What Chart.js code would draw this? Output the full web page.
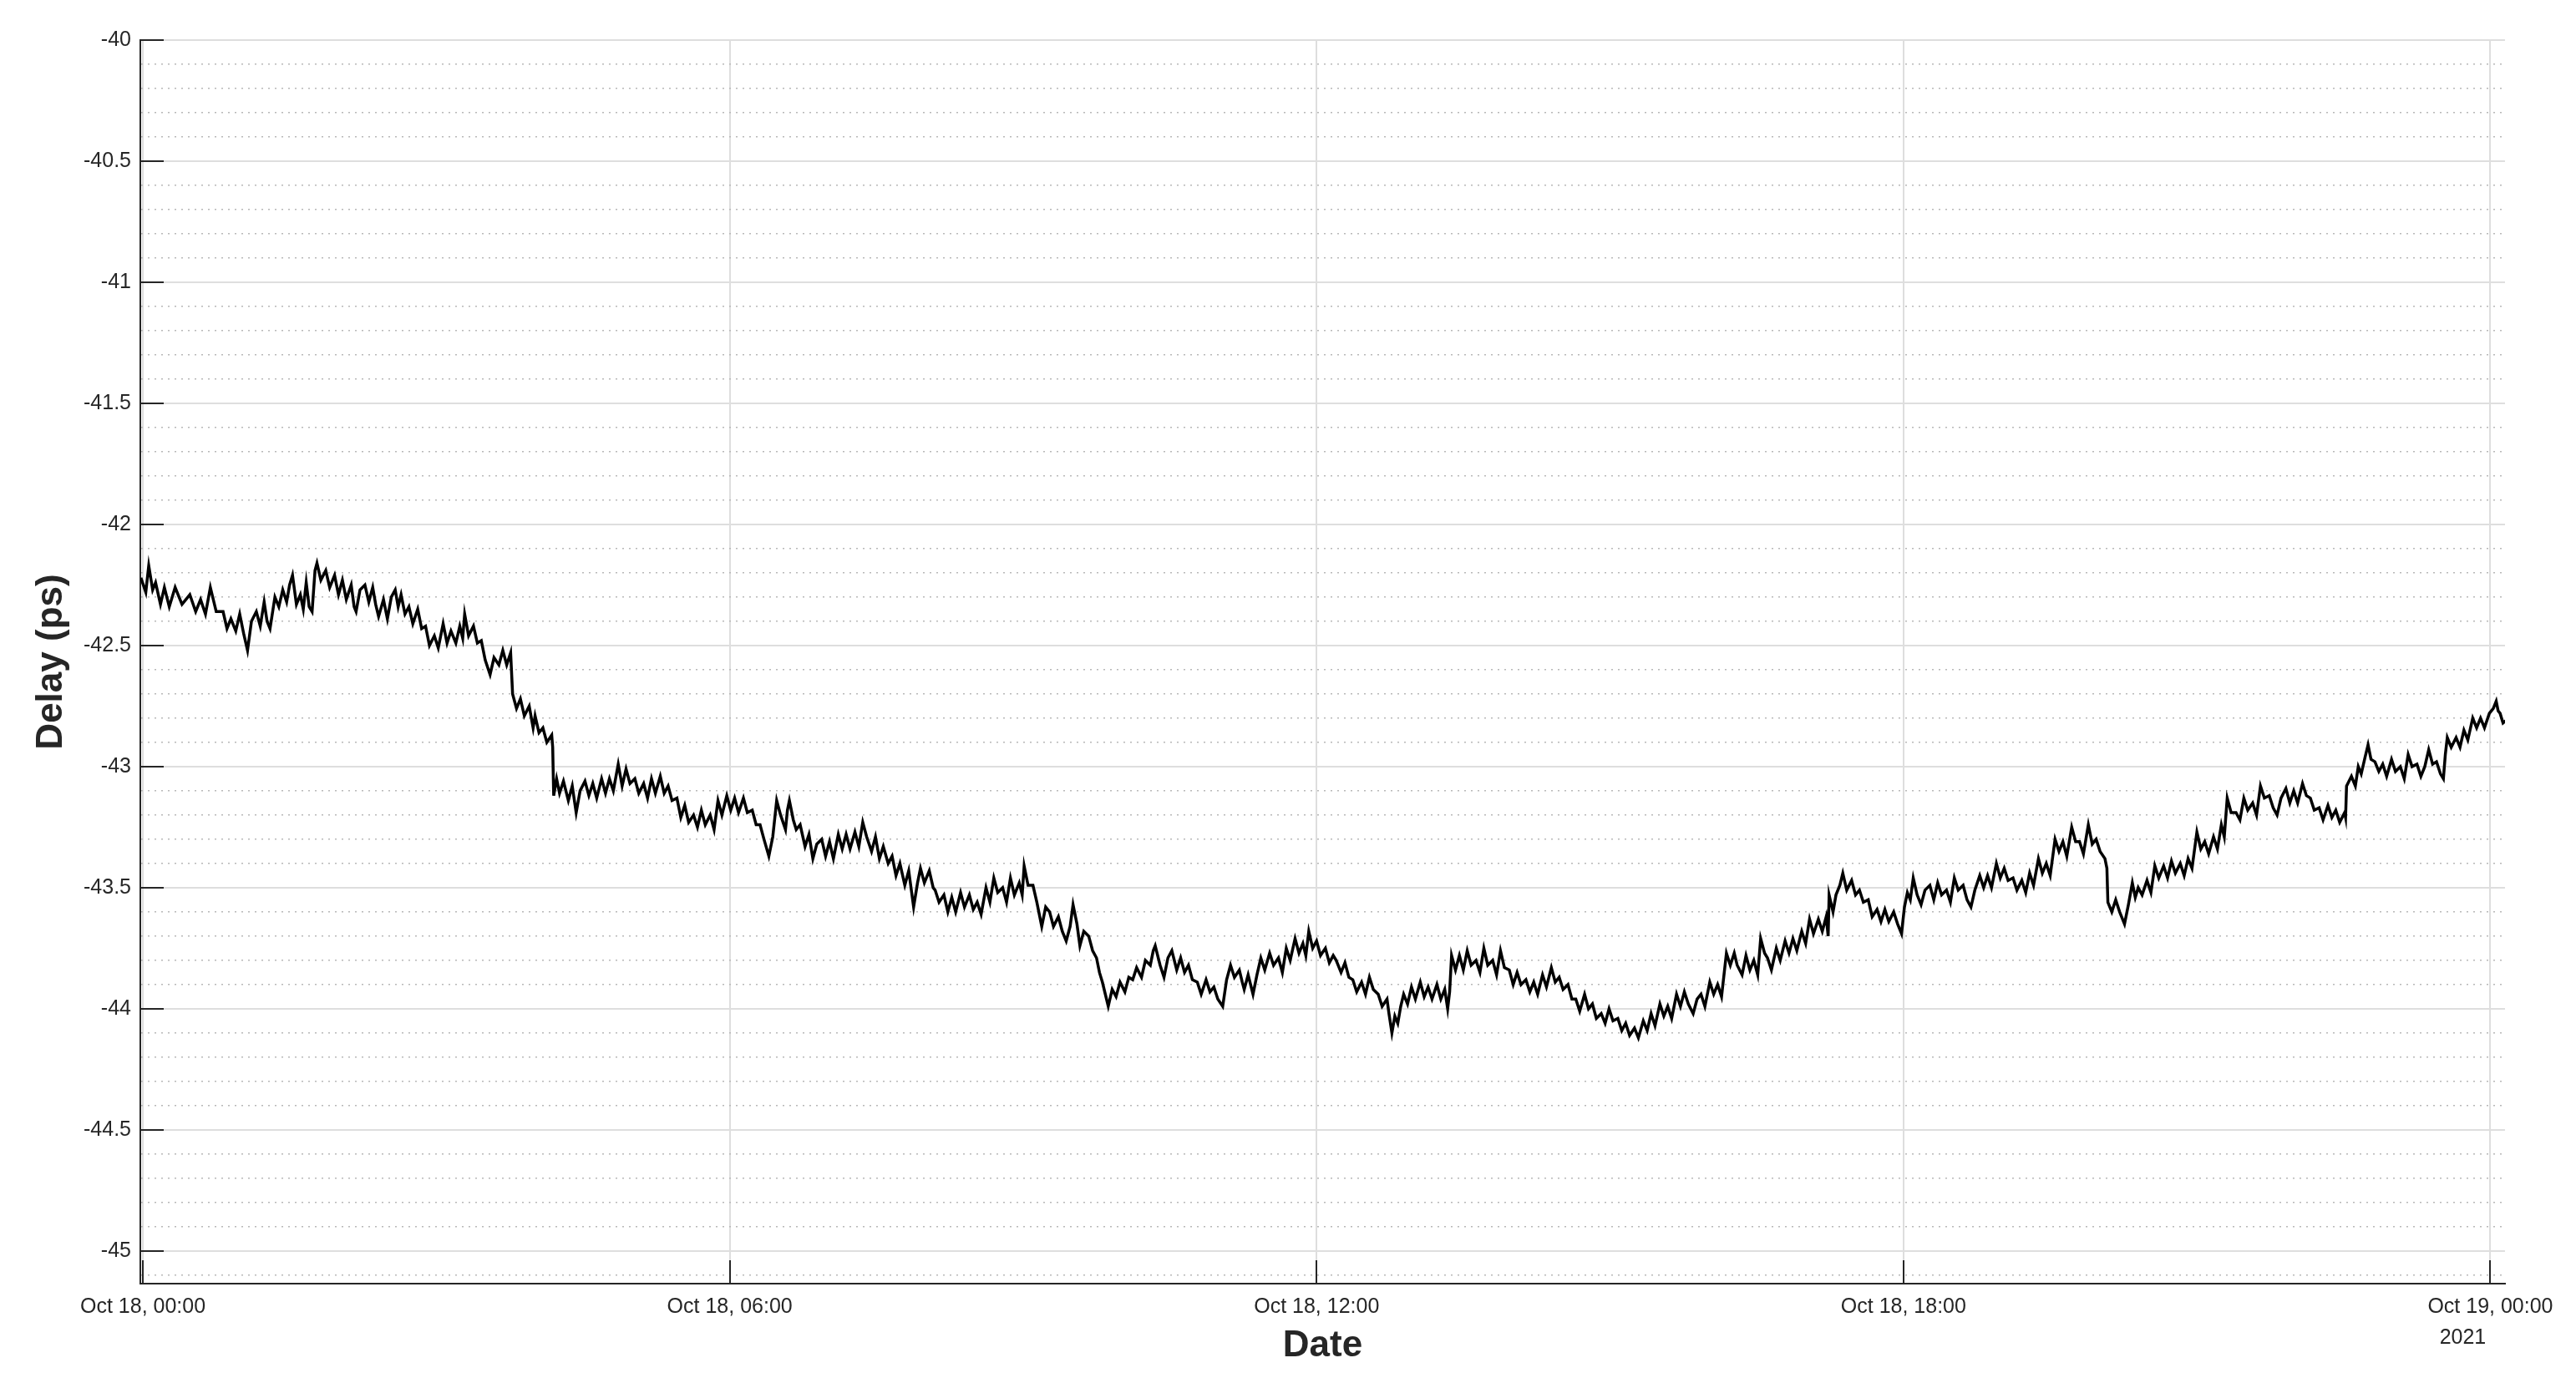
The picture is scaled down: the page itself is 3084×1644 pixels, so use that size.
<!DOCTYPE html>
<html>
<head>
<meta charset="utf-8">
<title>Delay (ps) vs Date</title>
<script src="https://cdn.jsdelivr.net/npm/chart.js@4.4.1/dist/chart.umd.min.js"></script>
<style>
  html, body { margin: 0; padding: 0; background: #fff; }
  #wrap { width: 3084px; height: 1644px; }
</style>
</head>
<body>
<div id="wrap"><canvas id="chart" width="3084" height="1644"></canvas></div>
<script>
// hours since Oct 18 2021 00:00
const hours = [
  -0.02, 0.03, 0.06, 0.10, 0.13, 0.18, 0.22, 0.27, 0.33, 0.40,
  0.48, 0.54, 0.59, 0.64, 0.69, 0.75, 0.82, 0.86, 0.90, 0.95,
  0.99, 1.03, 1.07, 1.11, 1.16, 1.20, 1.24, 1.27, 1.30, 1.35,
  1.39, 1.43, 1.47, 1.50, 1.53, 1.57, 1.61, 1.64, 1.67, 1.70,
  1.73, 1.76, 1.78, 1.82, 1.87, 1.91, 1.96, 2.00, 2.04, 2.08,
  2.13, 2.16, 2.18, 2.22, 2.27, 2.31, 2.35, 2.38, 2.41, 2.46,
  2.50, 2.54, 2.58, 2.61, 2.64, 2.68, 2.72, 2.76, 2.81, 2.85,
  2.89, 2.93, 2.98, 3.02, 3.07, 3.11, 3.15, 3.20, 3.24, 3.27,
  3.29, 3.33, 3.38, 3.42, 3.46, 3.50, 3.55, 3.59, 3.64, 3.68,
  3.72, 3.76, 3.78, 3.82, 3.86, 3.90, 3.95, 3.99,
  4.01, 4.05, 4.09, 4.13, 4.18, 4.19, 4.20, 4.23, 4.26, 4.30,
  4.35, 4.39, 4.43, 4.47, 4.52, 4.56, 4.60, 4.64, 4.69, 4.73,
  4.77, 4.81, 4.86, 4.90, 4.94, 4.98, 5.03, 5.07, 5.12, 5.16,
  5.20, 5.24, 5.29, 5.33, 5.37, 5.41, 5.46, 5.50, 5.54, 5.58,
  5.63, 5.67, 5.71, 5.75, 5.80, 5.84, 5.88, 5.92, 5.97, 6.01,
  6.05, 6.09, 6.14, 6.18, 6.23, 6.27, 6.31, 6.35, 6.40, 6.44,
  6.48, 6.52, 6.57, 6.59, 6.61, 6.65, 6.68, 6.72, 6.77, 6.81,
  6.85, 6.89, 6.94, 6.98, 7.02, 7.06, 7.11, 7.15, 7.19, 7.23,
  7.28, 7.32, 7.36, 7.40, 7.45, 7.49, 7.53, 7.57, 7.62, 7.66,
  7.70, 7.74, 7.79, 7.83, 7.88, 7.92, 7.95, 7.99, 8.04, 8.08,
  8.10, 8.14, 8.19, 8.23, 8.27, 8.31, 8.36, 8.40, 8.45, 8.49,
  8.53, 8.57, 8.62, 8.66, 8.70, 8.74, 8.79, 8.83, 8.87, 8.91,
  8.96, 8.99, 9.01, 9.05, 9.10, 9.14, 9.19, 9.23, 9.27, 9.31,
  9.36, 9.40, 9.44, 9.48, 9.51, 9.55, 9.58, 9.62, 9.67, 9.71,
  9.75, 9.78, 9.81, 9.84, 9.87, 9.91, 9.95, 9.99, 10.04, 10.08,
  10.12, 10.16, 10.21, 10.25, 10.30, 10.33, 10.35, 10.40, 10.44, 10.48,
  10.52, 10.57, 10.61, 10.65, 10.69, 10.73, 10.78, 10.82, 10.87, 10.91,
  10.95, 10.99, 11.04, 11.08, 11.12, 11.16, 11.21, 11.24, 11.26, 11.30,
  11.35, 11.39, 11.43, 11.47, 11.52, 11.56, 11.61, 11.65, 11.69, 11.73,
  11.78, 11.82, 11.86, 11.89, 11.92, 11.96, 12.00, 12.04, 12.09, 12.13,
  12.17,
  12.20, 12.25, 12.29, 12.33, 12.37, 12.41, 12.46, 12.50, 12.54, 12.58,
  12.63, 12.67, 12.72, 12.74, 12.77, 12.80, 12.83, 12.86, 12.89, 12.93,
  12.97, 13.01, 13.06, 13.10, 13.14, 13.18, 13.23, 13.27, 13.31, 13.34,
  13.36, 13.38, 13.42, 13.46, 13.50, 13.54, 13.58, 13.63, 13.67, 13.71,
  13.75, 13.80, 13.84, 13.88, 13.92, 13.97, 14.01, 14.05, 14.09, 14.14,
  14.18, 14.22, 14.26, 14.31, 14.35, 14.40, 14.44, 14.48, 14.52, 14.57,
  14.61, 14.65, 14.69, 14.74, 14.78, 14.82, 14.86, 14.91, 14.95, 14.99,
  15.03, 15.08, 15.12, 15.16, 15.20, 15.25, 15.29, 15.34, 15.38, 15.42,
  15.46, 15.51, 15.55, 15.59, 15.63, 15.68, 15.72, 15.76, 15.80, 15.85,
  15.89, 15.93, 15.97, 16.02, 16.06, 16.10, 16.14, 16.19, 16.23, 16.27,
  16.30, 16.35, 16.39, 16.43, 16.47, 16.51, 16.54, 16.58, 16.61, 16.65,
  16.70, 16.74, 16.79, 16.83, 16.87, 16.91, 16.96, 17.00, 17.04, 17.08,
  17.13, 17.17, 17.21, 17.23, 17.24, 17.28, 17.31, 17.35, 17.38, 17.42,
  17.47, 17.51, 17.55, 17.59, 17.64, 17.68, 17.73, 17.77, 17.81, 17.85,
  17.90, 17.94, 17.98, 18.01, 18.04, 18.07, 18.10, 18.14, 18.18, 18.22,
  18.27, 18.31, 18.35, 18.39, 18.44, 18.48, 18.52, 18.56, 18.61, 18.65,
  18.69, 18.73, 18.78, 18.82, 18.86, 18.90, 18.95, 18.99, 19.03, 19.07,
  19.12, 19.16, 19.21, 19.25, 19.29, 19.33, 19.38, 19.42, 19.46, 19.50,
  19.55, 19.59, 19.63, 19.67, 19.72, 19.76, 19.80, 19.84, 19.89, 19.93,
  19.97, 20.01, 20.06, 20.08, 20.09, 20.13, 20.17, 20.21, 20.26, 20.30,
  20.34, 20.37, 20.40,
  20.44, 20.49, 20.53, 20.57, 20.61, 20.66, 20.70, 20.74, 20.78, 20.83,
  20.87, 20.91, 20.95, 21.00, 21.04, 21.08, 21.12, 21.17, 21.21, 21.25,
  21.28, 21.31, 21.35, 21.40, 21.44, 21.48, 21.52, 21.57, 21.61, 21.65,
  21.69, 21.74, 21.78, 21.82, 21.86, 21.91, 21.95, 21.99, 22.03, 22.08,
  22.12, 22.16, 22.20, 22.25, 22.29, 22.34, 22.38, 22.42, 22.46, 22.51,
  22.52, 22.53, 22.58, 22.62, 22.65, 22.68, 22.72, 22.75, 22.78, 22.82,
  22.86, 22.90, 22.94, 22.99, 23.03, 23.08, 23.12, 23.16, 23.20, 23.25,
  23.29, 23.33, 23.37, 23.41, 23.45, 23.49, 23.52, 23.54, 23.56, 23.60,
  23.65, 23.69, 23.73, 23.77, 23.82, 23.86, 23.90, 23.94, 23.99, 24.03,
  24.06, 24.08, 24.10, 24.13, 24.16
]

const delayPs = [
  -42.22, -42.28, -42.17, -42.27, -42.24, -42.33, -42.26, -42.34, -42.26, -42.33,
  -42.29, -42.36, -42.31, -42.37, -42.26, -42.36, -42.36, -42.43, -42.39, -42.44,
  -42.37, -42.45, -42.52, -42.40, -42.36, -42.42, -42.32, -42.40, -42.43, -42.30,
  -42.34, -42.27, -42.32, -42.25, -42.21, -42.33, -42.29, -42.35, -42.24, -42.34,
  -42.36, -42.19, -42.16, -42.23, -42.19, -42.26, -42.21, -42.29, -42.23, -42.31,
  -42.25, -42.34, -42.36, -42.27, -42.25, -42.32, -42.26, -42.33, -42.38, -42.31,
  -42.39, -42.30, -42.27, -42.34, -42.29, -42.37, -42.34, -42.41, -42.35, -42.43,
  -42.42, -42.50, -42.46, -42.51, -42.41, -42.49, -42.44, -42.49, -42.42, -42.47,
  -42.37, -42.46, -42.42, -42.49, -42.48, -42.56, -42.62, -42.55, -42.58, -42.52,
  -42.58, -42.53, -42.70, -42.76, -42.72, -42.79, -42.75, -42.84,
  -42.79, -42.86, -42.84, -42.90, -42.87, -42.92, -43.12, -43.05, -43.11, -43.06,
  -43.14, -43.08, -43.19, -43.10, -43.06, -43.12, -43.07, -43.13, -43.05, -43.11,
  -43.05, -43.10, -42.99, -43.08, -43.01, -43.07, -43.05, -43.11, -43.07, -43.13,
  -43.05, -43.11, -43.04, -43.11, -43.08, -43.14, -43.13, -43.21, -43.16, -43.23,
  -43.20, -43.25, -43.18, -43.24, -43.20, -43.26, -43.14, -43.20, -43.12, -43.18,
  -43.13, -43.19, -43.13, -43.19, -43.18, -43.24, -43.24, -43.30, -43.37, -43.29,
  -43.14, -43.20, -43.26, -43.18, -43.14, -43.22, -43.26, -43.24, -43.33, -43.28,
  -43.38, -43.32, -43.30, -43.37, -43.31, -43.38, -43.28, -43.34, -43.28, -43.34,
  -43.27, -43.33, -43.23, -43.29, -43.35, -43.29, -43.38, -43.33, -43.40, -43.37,
  -43.45, -43.40, -43.49, -43.43, -43.58, -43.48, -43.42, -43.48, -43.43, -43.50,
  -43.51, -43.56, -43.53, -43.60, -43.54, -43.60, -43.52, -43.58, -43.53, -43.59,
  -43.56, -43.61, -43.50, -43.56, -43.46, -43.52, -43.50, -43.56, -43.46, -43.53,
  -43.48, -43.53, -43.41, -43.49, -43.49, -43.56, -43.66, -43.58, -43.60, -43.66,
  -43.62, -43.68, -43.72, -43.66, -43.57, -43.65, -43.74, -43.68, -43.70, -43.76,
  -43.79, -43.85, -43.89, -43.94, -43.99, -43.92, -43.95, -43.89, -43.93, -43.87,
  -43.88, -43.83, -43.87, -43.80, -43.82, -43.76, -43.74, -43.82, -43.87, -43.79,
  -43.76, -43.84, -43.79, -43.85, -43.82, -43.88, -43.89, -43.94, -43.88, -43.93,
  -43.91, -43.96, -43.99, -43.88, -43.82, -43.87, -43.84, -43.89, -43.92, -43.86,
  -43.94, -43.86, -43.79, -43.84, -43.77, -43.82, -43.79, -43.85, -43.75, -43.80,
  -43.71, -43.77, -43.73, -43.78, -43.68, -43.75, -43.72, -43.78, -43.75, -43.81,
  -43.78,
  -43.80, -43.85, -43.81, -43.87, -43.88, -43.93, -43.89, -43.94, -43.87, -43.92,
  -43.94, -43.99, -43.96, -44.02, -44.10, -44.03, -44.06, -43.99, -43.94, -43.98,
  -43.91, -43.96, -43.89, -43.95, -43.91, -43.96, -43.90, -43.96, -43.92, -44.00,
  -43.93, -43.78, -43.84, -43.78, -43.84, -43.76, -43.82, -43.80, -43.85, -43.75,
  -43.82, -43.80, -43.86, -43.76, -43.83, -43.84, -43.90, -43.85, -43.90, -43.88,
  -43.93, -43.89, -43.94, -43.86, -43.91, -43.83, -43.89, -43.87, -43.92, -43.90,
  -43.96, -43.96, -44.01, -43.94, -44.00, -43.98, -44.04, -44.02, -44.06, -44.00,
  -44.05, -44.04, -44.09, -44.06, -44.11, -44.08, -44.12, -44.05, -44.09, -44.02,
  -44.07, -43.98, -44.03, -43.99, -44.04, -43.94, -43.99, -43.93, -43.98, -44.02,
  -43.96, -43.94, -43.99, -43.89, -43.94, -43.90, -43.95, -43.77, -43.82, -43.77,
  -43.82, -43.86, -43.78, -43.84, -43.80, -43.86, -43.71, -43.77, -43.79, -43.84,
  -43.75, -43.80, -43.72, -43.77, -43.71, -43.76, -43.68, -43.73, -43.63, -43.69,
  -43.63, -43.68, -43.62, -43.70, -43.53, -43.60, -43.53, -43.49, -43.44, -43.51,
  -43.47, -43.53, -43.51, -43.56, -43.55, -43.62, -43.59, -43.64, -43.59, -43.64,
  -43.60, -43.65, -43.69, -43.58, -43.52, -43.55, -43.46, -43.53, -43.57, -43.51,
  -43.49, -43.55, -43.48, -43.53, -43.51, -43.56, -43.46, -43.51, -43.49, -43.55,
  -43.58, -43.51, -43.45, -43.50, -43.45, -43.50, -43.40, -43.46, -43.42, -43.47,
  -43.46, -43.51, -43.47, -43.52, -43.44, -43.49, -43.38, -43.44, -43.40, -43.45,
  -43.30, -43.35, -43.31, -43.37, -43.25, -43.31, -43.31, -43.36, -43.24, -43.32,
  -43.30, -43.35, -43.38, -43.42, -43.56, -43.60, -43.55, -43.60, -43.65, -43.57,
  -43.48, -43.54, -43.50,
  -43.53, -43.47, -43.52, -43.41, -43.46, -43.41, -43.46, -43.39, -43.44, -43.40,
  -43.45, -43.38, -43.42, -43.27, -43.34, -43.31, -43.36, -43.29, -43.34, -43.24,
  -43.29, -43.13, -43.19, -43.19, -43.22, -43.13, -43.18, -43.15, -43.20, -43.08,
  -43.13, -43.12, -43.17, -43.20, -43.13, -43.09, -43.15, -43.10, -43.15, -43.07,
  -43.12, -43.13, -43.18, -43.17, -43.22, -43.16, -43.21, -43.18, -43.23, -43.19,
  -43.21, -43.08, -43.04, -43.08, -43.00, -43.03, -42.96, -42.91, -42.97, -42.98,
  -43.02, -42.99, -43.04, -42.97, -43.02, -43.00, -43.05, -42.95, -43.00, -42.99,
  -43.04, -43.00, -42.93, -42.99, -42.98, -43.03, -43.05, -42.95, -42.88, -42.92,
  -42.88, -42.92, -42.85, -42.89, -42.80, -42.84, -42.80, -42.84, -42.78, -42.76,
  -42.73, -42.77, -42.78, -42.82, -42.81
]

const xTickHours = [0, 6, 12, 18, 24]
const xTickLabels = ["Oct 18, 00:00", "Oct 18, 06:00", "Oct 18, 12:00", "Oct 18, 18:00", "Oct 19, 00:00"]
const yearLabel = "2021"
const xRange = [-0.026, 24.15]
const yRange = [-45.135, -40]

const axisColor = "#262626"
const fontFamily = "'Liberation Sans', Arial, Helvetica, sans-serif"

// major ticks every 0.5 ps get a label and a solid line, the rest are dotted minor lines
const isMajor = (v) => Math.abs(v * 2 - Math.round(v * 2)) < 1e-6

// MATLAB style: tick marks point into the plot, plus the year under the last date
const matlabTicks = {
  id: "matlabTicks",
  afterDraw(chart) {
    const { ctx, chartArea, scales } = chart
    ctx.save()
    ctx.strokeStyle = axisColor
    ctx.lineWidth = 2
    ctx.beginPath()
    scales.y.ticks.forEach((t) => {
      if (!isMajor(t.value)) return
      const y = Math.round(scales.y.getPixelForValue(t.value))
      ctx.moveTo(chartArea.left, y)
      ctx.lineTo(chartArea.left + 28, y)
    })
    scales.x.ticks.forEach((t) => {
      const x = Math.round(scales.x.getPixelForValue(t.value))
      ctx.moveTo(x, chartArea.bottom)
      ctx.lineTo(x, chartArea.bottom - 28)
    })
    ctx.stroke()

    ctx.fillStyle = axisColor
    ctx.font = `25px ${fontFamily}`
    ctx.textAlign = "center"
    ctx.textBaseline = "middle"
    const lastX = scales.x.getPixelForValue(xTickHours[xTickHours.length - 1])
    ctx.fillText(yearLabel, lastX - 33, chartArea.bottom + 65)
    ctx.restore()
  }
}

new Chart(document.getElementById("chart"), {
  type: "line",
  data: {
    datasets: [{
      data: hours.map((h, i) => ({ x: h, y: delayPs[i] })),
      borderColor: "#000000",
      borderWidth: 3.5,
      borderJoinStyle: "miter",
      pointRadius: 0,
      tension: 0
    }]
  },
  options: {
    responsive: false,
    animation: false,
    devicePixelRatio: 1,
    layout: { padding: { top: 48, right: 85, left: 0, bottom: 0 } },
    plugins: { legend: { display: false }, tooltip: { enabled: false } },
    scales: {
      x: {
        type: "linear",
        min: xRange[0],
        max: xRange[1],
        afterBuildTicks: (scale) => { scale.ticks = xTickHours.map((v) => ({ value: v })) },
        afterFit: (scale) => { scale.height = 107 },
        ticks: {
          autoSkip: false,
          maxRotation: 0,
          padding: 13,
          color: axisColor,
          font: { family: fontFamily, size: 25 },
          callback: (v) => xTickLabels[xTickHours.indexOf(v)] ?? ""
        },
        grid: { color: "#dedede", lineWidth: 2, drawTicks: false },
        border: { color: axisColor, width: 2 },
        title: {
          display: true,
          text: "Date",
          color: axisColor,
          font: { family: fontFamily, size: 44, weight: "bold" },
          padding: { top: 0, bottom: 6 }
        }
      },
      y: {
        min: yRange[0],
        max: yRange[1],
        afterBuildTicks: (scale) => {
          const ticks = []
          for (let k = -451; k <= -400; k++) ticks.push({ value: k / 10 })
          scale.ticks = ticks
        },
        afterFit: (scale) => { scale.width = 168 },
        ticks: {
          autoSkip: false,
          padding: 11,
          color: axisColor,
          font: { family: fontFamily, size: 25 },
          callback: (v) => isMajor(v) ? String(Math.round(v * 10) / 10) : ""
        },
        grid: {
          drawTicks: false,
          color: (c) => (c.tick && isMajor(c.tick.value)) ? "#dedede" : "#b8b8b8",
          lineWidth: (c) => (c.tick && isMajor(c.tick.value)) ? 2 : 1.5
        },
        border: {
          color: axisColor,
          width: 2,
          dash: (c) => (c.tick && !isMajor(c.tick.value)) ? [2, 6] : []
        },
        title: {
          display: true,
          text: "Delay (ps)",
          color: axisColor,
          font: { family: fontFamily, size: 44, weight: "bold" },
          padding: { top: 35, bottom: 0 }
        }
      }
    }
  },
  plugins: [matlabTicks]
})
</script>
</body>
</html>
